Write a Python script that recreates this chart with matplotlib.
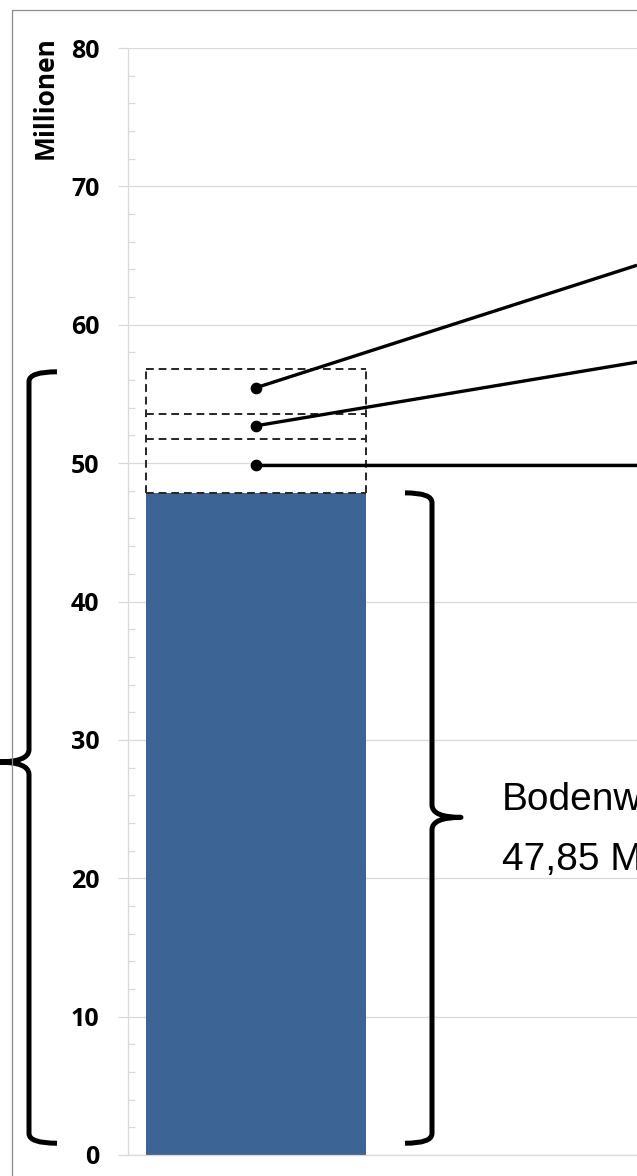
import matplotlib
matplotlib.use("Agg")
import matplotlib.pyplot as plt
from matplotlib.patches import Rectangle, PathPatch
from matplotlib.path import Path
import numpy as np

# ---- data ----
bar_value = 47.85                      # Bodenwert (Mio.)
extra_segments = [3.87, 1.81, 3.27]    # dashed stacked segments on top
dot_y = [49.85, 52.70, 55.45]          # callout dot heights
line_end_y = [49.85, 57.3, 64.3]       # callout line heights at right edge
y_ticks = [0, 10, 20, 30, 40, 50, 60, 70, 80]
y_label = "Millionen"
text_lines = ["Bodenwert", "47,85 Mio. €"]

W, H, DPI = 637, 1176, 100
fig = plt.figure(figsize=(W / DPI, H / DPI), dpi=DPI)

# axes geometry (pixels)
ax_left, ax_bottom_px, ax_top_px = 128, 1155, 48
bar_center_px, px_per_x = 256, 275.0
ax = fig.add_axes([ax_left / W, (H - ax_bottom_px) / H,
                   (W - ax_left) / W, (ax_bottom_px - ax_top_px) / H])
ax.set_xlim((ax_left - bar_center_px) / px_per_x, (W - bar_center_px) / px_per_x)
ax.set_ylim(0, 80)

def px2x(px):
    return (px - bar_center_px) / px_per_x

tick_font = dict(family="Open Sans", weight="bold", size=18)

grid_c = "#D9D9D9"
ax.set_yticks(y_ticks)
ax.set_yticklabels([str(t) for t in y_ticks], fontdict=tick_font)
ax.set_yticks(range(0, 81, 2), minor=True)
ax.grid(axis="y", which="major", color=grid_c, lw=0.9, zorder=0)
ax.set_xticks([])
for s in ["top", "right"]:
    ax.spines[s].set_visible(False)
ax.spines["left"].set_color(grid_c)
ax.spines["bottom"].set_color(grid_c)
ax.spines["left"].set_linewidth(0.9)
ax.spines["bottom"].set_linewidth(0.9)
ax.tick_params(axis="y", which="major", direction="out", length=7.2, color=grid_c,
               width=0.9, pad=13.5)
ax.tick_params(axis="y", which="minor", direction="in", length=5, color=grid_c, width=0.9)

# main bar
bar_w = 0.8
ax.bar(0, bar_value, width=bar_w, color="#3C6494", zorder=2)

# dashed stacked boxes (outline drawn as dashed segments so shared edges stay dashed)
bounds = np.concatenate([[bar_value], bar_value + np.cumsum(extra_segments)])
dash = dict(color="#262626", linestyle=(0, (4, 2.5)), linewidth=1.4, zorder=3)
ax.hlines(bounds, -bar_w / 2, bar_w / 2, **dash)
ax.vlines([-bar_w / 2, bar_w / 2], bounds[0], bounds[-1], **dash)

# callout lines with dots
xr = ax.get_xlim()[1]
for yd, ye in zip(dot_y, line_end_y):
    ax.plot([0, xr], [yd, ye], color="black", lw=2.4, solid_capstyle="butt", zorder=4)
    ax.scatter([0], [yd], s=55, color="black", zorder=5)

# braces
def brace(x_v, x_hook, x_tip, y_top, y_bot, y_mid, ry=0.7, rt=0.9):
    verts = [(x_hook, y_top), (x_v, y_top), (x_v, y_top - ry),
             (x_v, y_mid + rt), (x_v, y_mid), (x_tip, y_mid),
             (x_v, y_mid), (x_v, y_mid - rt),
             (x_v, y_bot + ry), (x_v, y_bot), (x_hook, y_bot)]
    codes = [Path.MOVETO, Path.CURVE3, Path.CURVE3,
             Path.LINETO, Path.CURVE3, Path.CURVE3,
             Path.CURVE3, Path.CURVE3,
             Path.LINETO, Path.CURVE3, Path.CURVE3]
    p = PathPatch(Path(verts, codes), fill=False, edgecolor="black", lw=3.6,
                  capstyle="butt", joinstyle="round", clip_on=False, zorder=6)
    ax.add_patch(p)

brace(px2x(432), px2x(405), px2x(461), bar_value, 0.85, 24.4)
brace(px2x(29), px2x(57), px2x(-2), 56.6, 0.85, 28.4)

# text
tx = px2x(502)
ax.text(tx, 24.93, text_lines[0], fontsize=28, family="Liberation Sans",
        va="baseline", ha="left", clip_on=False)
ax.text(tx, 20.6, text_lines[1], fontsize=28, family="Liberation Sans",
        va="baseline", ha="left", clip_on=False)

# y label
fig.text(45 / W, 1 - 98 / H, y_label, rotation=90, ha="center", va="center",
         fontsize=19, fontweight="bold", family="Open Sans")

# outer frame
fig.add_artist(Rectangle((12 / W, -0.05), 2.0, (H - 10) / H + 0.05,
                         transform=fig.transFigure, fill=False,
                         edgecolor="#8C8C8C", lw=0.9))

fig.savefig("out.png", dpi=DPI)
